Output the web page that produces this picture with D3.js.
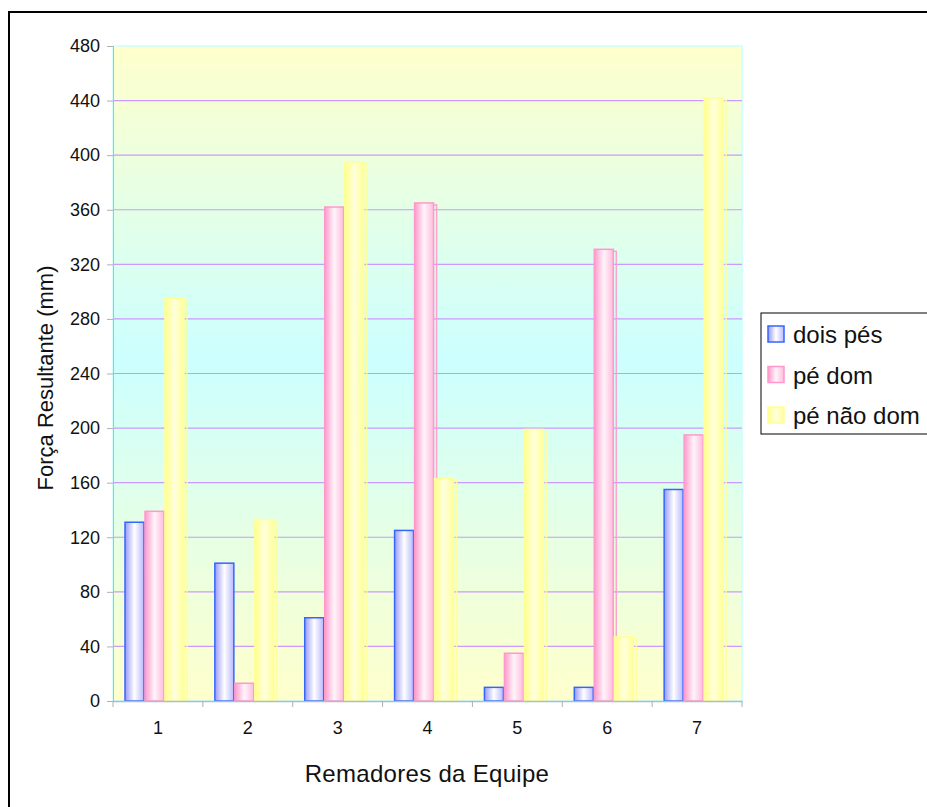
<!DOCTYPE html>
<html>
<head>
<meta charset="utf-8">
<script src="https://cdn.jsdelivr.net/npm/d3@7"></script>
<style>
  body { margin: 0; background: #fff; }
  svg { display: block; font-family: "Liberation Sans", Arial, sans-serif; }
</style>
</head>
<body>
<svg id="chart" width="927" height="807"></svg>
<script>
// chart data
const categories = ["1", "2", "3", "4", "5", "6", "7"];
const seriesNames = ["dois pés", "pé dom", "pé não dom"];
const doisPes = [131, 101, 61, 125, 10, 10, 155];
const peDom = [139, 13, 362, 365, 35, 331, 195];
const peNaoDom = [295, 133, 395, 163, 199, 47, 442];
const yTicks = [0, 40, 80, 120, 160, 200, 240, 280, 320, 360, 400, 440, 480];

const values = [doisPes, peDom, peNaoDom];

// look of each series: outline + cylinder-like gradient
const looks = [
    { stroke: "#3366ff", stops: ["#9999ff", "#ffffff", "#b8b8ff"] },
    { stroke: "#ff99cc", stops: ["#ff99cc", "#fff4fa", "#ffbbdd"] },
    { stroke: "#ffff99", stops: ["#ffff88", "#ffffdd", "#ffff99"] }
];

const svg = d3.select("#chart");
const plotLeft = 113, plotRight = 742, plotTop = 46, plotBottom = 701;

const defs = svg.append("defs");
const bg = defs.append("linearGradient").attr("id", "bg")
    .attr("x1", 0).attr("y1", 0).attr("x2", 0).attr("y2", 1);
bg.append("stop").attr("offset", "0%").attr("stop-color", "#ffffcc");
bg.append("stop").attr("offset", "48%").attr("stop-color", "#ccffff");
bg.append("stop").attr("offset", "100%").attr("stop-color", "#ffffcc");

looks.forEach((l, i) => {
    const g = defs.append("linearGradient").attr("id", "bar" + i)
        .attr("x1", 0).attr("y1", 0).attr("x2", 1).attr("y2", 0);
    g.append("stop").attr("offset", "0%").attr("stop-color", l.stops[0]);
    g.append("stop").attr("offset", "50%").attr("stop-color", l.stops[1]);
    g.append("stop").attr("offset", "100%").attr("stop-color", l.stops[2]);
});

// outer frame (right and bottom edges fall outside the picture)
svg.append("rect")
    .attr("x", 9).attr("y", 12).attr("width", 960).attr("height", 840)
    .attr("fill", "none").attr("stroke", "#000").attr("stroke-width", 2);

const x0 = d3.scaleBand().domain(categories).range([plotLeft, plotRight]).paddingInner(0);
const x1 = d3.scaleBand().domain(d3.range(3)).range([12, 72]);
const y = d3.scaleLinear().domain([0, 480]).range([plotBottom, plotTop]);

// plot area
svg.append("rect")
    .attr("x", plotLeft).attr("y", plotTop)
    .attr("width", plotRight - plotLeft).attr("height", plotBottom - plotTop)
    .attr("fill", "url(#bg)").attr("stroke", "#ccffff").attr("stroke-width", 1.5);

// gridlines
svg.append("g")
    .selectAll("line")
    .data(yTicks.filter(t => t > 0 && t < 480))
    .enter().append("line")
    .attr("x1", plotLeft).attr("x2", plotRight)
    .attr("y1", d => y(d)).attr("y2", d => y(d))
    .attr("stroke", "#cc99ff").attr("stroke-width", 1.2);

// bars
const groups = svg.append("g")
    .selectAll("g")
    .data(categories)
    .enter().append("g")
    .attr("transform", d => "translate(" + x0(d) + ",0)");

groups.selectAll("g.bar")
    .data((d, ci) => values.map((s, si) => ({ si: si, v: s[ci] })))
    .enter().append("g")
    .attr("class", "bar")
    .each(function (d) {
        const g = d3.select(this);
        const bx = x1(d.si), bw = x1.bandwidth() - 1;
        const by = y(d.v), bh = plotBottom - y(d.v);
        // offset outline behind the bar
        g.append("rect")
            .attr("x", bx + 3).attr("y", by + 2)
            .attr("width", bw).attr("height", Math.max(0, bh - 2))
            .attr("fill", "none")
            .attr("stroke", looks[d.si].stroke).attr("stroke-width", 1.5)
            .attr("opacity", d.si === 0 ? 0 : 0.9);
        g.append("rect")
            .attr("x", bx).attr("y", by)
            .attr("width", bw).attr("height", bh)
            .attr("fill", "url(#bar" + d.si + ")")
            .attr("stroke", looks[d.si].stroke).attr("stroke-width", 1.5);
    });

// axes
const axisColor = "#a8c0c8";
const yAxis = svg.append("g")
    .attr("transform", "translate(" + plotLeft + ",0)")
    .call(d3.axisLeft(y).tickValues(yTicks).tickSize(6).tickPadding(7));
yAxis.select(".domain").attr("stroke", axisColor);
yAxis.selectAll(".tick line").attr("stroke", "#b0b0b0");
yAxis.selectAll(".tick text").attr("font-size", 18).attr("fill", "#111")
    .attr("font-family", "Liberation Sans, Arial, sans-serif");

const xAxis = svg.append("g")
    .attr("transform", "translate(0," + plotBottom + ")")
    .call(d3.axisBottom(x0).tickSize(0).tickPadding(20));
xAxis.select(".domain").attr("stroke", axisColor).attr("stroke-width", 1.5);
xAxis.selectAll(".tick text").attr("font-size", 18).attr("fill", "#111")
    .attr("font-family", "Liberation Sans, Arial, sans-serif");

// category separators on the x axis
svg.append("g")
    .selectAll("line")
    .data(categories.concat(["end"]))
    .enter().append("line")
    .attr("x1", (d, i) => plotLeft + i * x0.step()).attr("x2", (d, i) => plotLeft + i * x0.step())
    .attr("y1", plotBottom).attr("y2", plotBottom + 6)
    .attr("stroke", "#b0b0b0");

// axis titles
svg.append("text")
    .attr("transform", "translate(53,378) rotate(-90)")
    .attr("text-anchor", "middle")
    .attr("font-size", 22).attr("fill", "#111")
    .text("Força Resultante (mm)");

svg.append("text")
    .attr("x", 427).attr("y", 782)
    .attr("text-anchor", "middle")
    .attr("font-size", 24).attr("letter-spacing", 0.3).attr("fill", "#111")
    .text("Remadores da Equipe");

// legend
const legend = svg.append("g");
legend.append("rect")
    .attr("x", 761).attr("y", 313).attr("width", 200).attr("height", 121)
    .attr("fill", "#fff").attr("stroke", "#000").attr("stroke-width", 1);

const items = legend.selectAll("g.item")
    .data(seriesNames)
    .enter().append("g")
    .attr("class", "item")
    .attr("transform", (d, i) => "translate(768," + (343 + i * 40.5) + ")");

items.append("rect")
    .attr("x", 0).attr("y", -17).attr("width", 16).attr("height", 16)
    .attr("fill", (d, i) => "url(#bar" + i + ")")
    .attr("stroke", (d, i) => looks[i].stroke).attr("stroke-width", 1.5);

items.append("text")
    .attr("x", 25).attr("y", 0)
    .attr("font-size", 24).attr("fill", "#111")
    .text(d => d);
</script>
</body>
</html>
